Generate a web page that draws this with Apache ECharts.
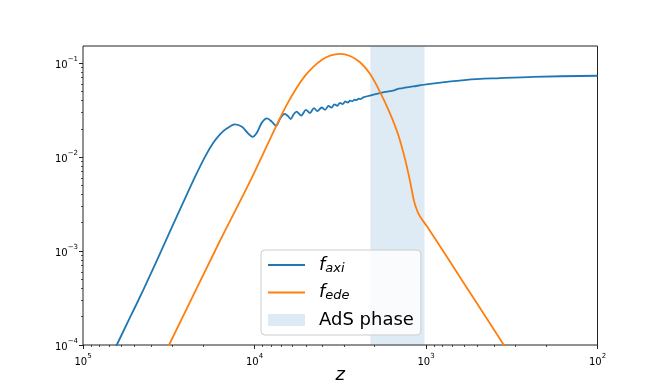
<!DOCTYPE html>
<html><head><meta charset="utf-8">
<script src="https://cdn.jsdelivr.net/npm/echarts@6/dist/echarts.min.js"></script>
<style>html,body{margin:0;padding:0;background:#fff}#c{width:665px;height:388px}</style>
</head><body><div id="c"></div>
<script>
// f_axi
const zAxi = [70000, 63600, 53200, 44500, 37180, 31100, 26120, 22230, 19440, 17390, 15890, 14460, 13000, 11830, 10910, 10270,
  9670, 9040, 8450, 7960, 7490, 7100, 6680, 6405, 6150, 5907, 5690, 5340, 5010, 4750, 4500, 4300, 4060, 3880,
  3700, 3560, 3417, 3290, 3173, 3060, 2955, 2858,
  2770, 2690, 2610, 2540, 2470, 2400, 2320, 1855, 1516, 1476, 1186, 970, 579, 370, 237, 100];
const fAxi = [7.0e-5, 1.0e-4, 1.963e-4, 3.85e-4, 7.84e-4, 1.617e-3, 3.25e-3, 6.15e-3, 1.005e-2, 1.416e-2, 1.745e-2, 2.02e-2, 2.23e-2, 2.10e-2, 1.788e-2, 1.64e-2,
  1.83e-2, 2.34e-2, 2.58e-2, 2.40e-2, 2.15e-2, 2.55e-2, 2.88e-2, 2.75e-2, 2.54e-2, 2.85e-2, 3.05e-2, 2.76e-2, 3.18e-2, 2.94e-2, 3.32e-2, 3.08e-2, 3.37e-2, 3.18e-2,
  3.51e-2, 3.36e-2, 3.64e-2, 3.51e-2, 3.78e-2, 3.66e-2, 3.91e-2, 3.80e-2,
  3.98e-2, 3.92e-2, 4.08e-2, 4.03e-2, 4.18e-2, 4.14e-2, 4.32e-2, 4.79e-2, 5.16e-2, 5.28e-2, 5.64e-2, 5.98e-2, 6.64e-2, 6.92e-2, 7.15e-2, 7.33e-2];
// f_ede
const zEde = [34630, 31510, 16260, 10620, 7393, 6490, 5675, 5077, 4540, 4040, 3629, 3173, 2774, 2425, 2121,
  1855, 1622, 1451, 1326, 1240, 1175, 1113, 1055, 987, 592, 354, 315];
const fEde = [7.05e-5, 1.0e-4, 1.181e-3, 5.5e-3, 2.23e-2, 3.59e-2, 5.47e-2, 7.31e-2, 9.13e-2, 0.1084, 0.1202, 0.1256, 0.119, 0.102, 7.69e-2,
  4.95e-2, 2.92e-2, 1.72e-2, 9.57e-3, 5.58e-3, 3.42e-3, 2.55e-3, 2.17e-3, 1.83e-3, 4.36e-4, 1.02e-4, 7.3e-5];
// AdS phase range in z
const adsPhase = [2110, 1020];
// ticks
const xMajor = [1e5, 1e4, 1e3, 1e2];
const yMajor = [1e-4, 1e-3, 1e-2, 1e-1];
const xMinor = [2e2,3e2,4e2,5e2,6e2,7e2,8e2,9e2,2e3,3e3,4e3,5e3,6e3,7e3,8e3,9e3,2e4,3e4,4e4,5e4,6e4,7e4,8e4,9e4];
const yMinor = [2e-4,3e-4,4e-4,5e-4,6e-4,7e-4,8e-4,9e-4,2e-3,3e-3,4e-3,5e-3,6e-3,7e-3,8e-3,9e-3,2e-2,3e-2,4e-2,5e-2,6e-2,7e-2,8e-2,9e-2];
const xRange = [100, 100000];
const yRange = [1e-4, 0.152];

const FONT = 'DejaVu Sans';
function powLabel(v) {
  const l = Math.log10(v), e = Math.round(l);
  if (Math.abs(l - e) > 1e-6) return '';
  return '{b|10}{s|' + (e < 0 ? '\u2212' + (-e) : e) + '}';
}
const rich = {
  b: {fontSize: 10, fontFamily: FONT, color: '#000', lineHeight: 14, verticalAlign: 'bottom'},
  s: {fontSize: 7, fontFamily: FONT, color: '#000', lineHeight: 7, verticalAlign: 'top'}
};
const zip = (a, b) => a.map((v, i) => [v, b[i]]);

const chart = echarts.init(document.getElementById('c'), null, {renderer: 'canvas'});
const axisBase = {type: 'log', logBase: 10, splitLine: {show: false}, axisLine: {show: false}};
chart.setOption({
  animation: false,
  backgroundColor: '#fff',
  grid: {left: 83, right: 67.5, top: 46, bottom: 43, containLabel: false, outerBoundsMode: 'none',
    show: true, borderColor: '#222', borderWidth: 1, backgroundColor: 'transparent'},
  xAxis: [
    Object.assign({}, axisBase, {
      min: xRange[0], max: xRange[1], inverse: true, position: 'bottom',
      axisTick: {show: true, length: 4, lineStyle: {color: '#222', width: 1}, customValues: xMajor},
      axisLabel: {show: true, margin: 8, formatter: powLabel, rich: rich, customValues: xMajor, showMinLabel: true, showMaxLabel: true},
      name: 'z', nameLocation: 'middle', nameGap: 21, nameMoveOverlap: false,
      nameTextStyle: {fontFamily: FONT, fontStyle: 'italic', fontSize: 18, color: '#000'}
    }),
    Object.assign({}, axisBase, {
      min: xRange[0], max: xRange[1], inverse: true, position: 'bottom',
      axisTick: {show: true, length: 2, lineStyle: {color: '#222', width: 0.8}, customValues: xMinor},
      axisLabel: {show: false}
    })
  ],
  yAxis: [
    Object.assign({}, axisBase, {
      min: yRange[0], max: yRange[1], position: 'left',
      axisTick: {show: true, length: 4, lineStyle: {color: '#222', width: 1}, customValues: yMajor},
      axisLabel: {show: true, margin: 5, formatter: powLabel, rich: rich, customValues: yMajor}
    }),
    Object.assign({}, axisBase, {
      min: yRange[0], max: yRange[1], position: 'left',
      axisTick: {show: true, length: 2, lineStyle: {color: '#222', width: 0.8}, customValues: yMinor},
      axisLabel: {show: false}
    })
  ],
  legend: {
    orient: 'vertical', left: 261, top: 250,
    padding: [6, 7, 6, 6], itemGap: 8.5, itemWidth: 37, itemHeight: 12,
    backgroundColor: 'rgba(255,255,255,0.8)', borderColor: '#cccccc', borderWidth: 1, borderRadius: 4,
    data: [
      {name: 'f_axi', itemStyle: {opacity: 0}},
      {name: 'f_ede', itemStyle: {opacity: 0}},
      {name: 'AdS phase', icon: 'rect', itemStyle: {color: '#dde9f3', opacity: 1}}
    ],
    formatter: function (name) {
      if (name === 'AdS phase') return '{t|AdS phase}';
      return '{f|f}{sub|' + name.split('_')[1] + '}';
    },
    textStyle: {
      rich: {
        f: {fontSize: 18, fontStyle: 'italic', fontFamily: FONT, color: '#000', lineHeight: 20, padding: [0, 0, 0, 9]},
        sub: {fontSize: 13, fontStyle: 'italic', fontFamily: FONT, color: '#000', lineHeight: 14, verticalAlign: 'bottom'},
        t: {fontSize: 18, fontFamily: FONT, color: '#000', lineHeight: 20, padding: [0, 0, 0, 9]}
      }
    }
  },
  series: [
    {
      name: 'AdS phase', type: 'line', data: [], xAxisIndex: 0, yAxisIndex: 0, z: 1,
      itemStyle: {color: '#dde9f3'}, lineStyle: {opacity: 0}, symbol: 'none',
      markArea: {silent: true, itemStyle: {color: 'rgba(31,119,180,0.15)'},
        data: [[{xAxis: adsPhase[0]}, {xAxis: adsPhase[1]}]]}
    },
    {
      name: 'f_axi', type: 'line', data: zip(zAxi, fAxi), xAxisIndex: 0, yAxisIndex: 0, z: 3,
      symbol: 'none', smooth: 0.3, color: '#1f77b4', lineStyle: {width: 1.8, color: '#1f77b4'}
    },
    {
      name: 'f_ede', type: 'line', data: zip(zEde, fEde), xAxisIndex: 0, yAxisIndex: 0, z: 3,
      symbol: 'none', smooth: 0.3, color: '#ff7f0e', lineStyle: {width: 1.8, color: '#ff7f0e'}
    }
  ]
});
</script>
</body></html>
